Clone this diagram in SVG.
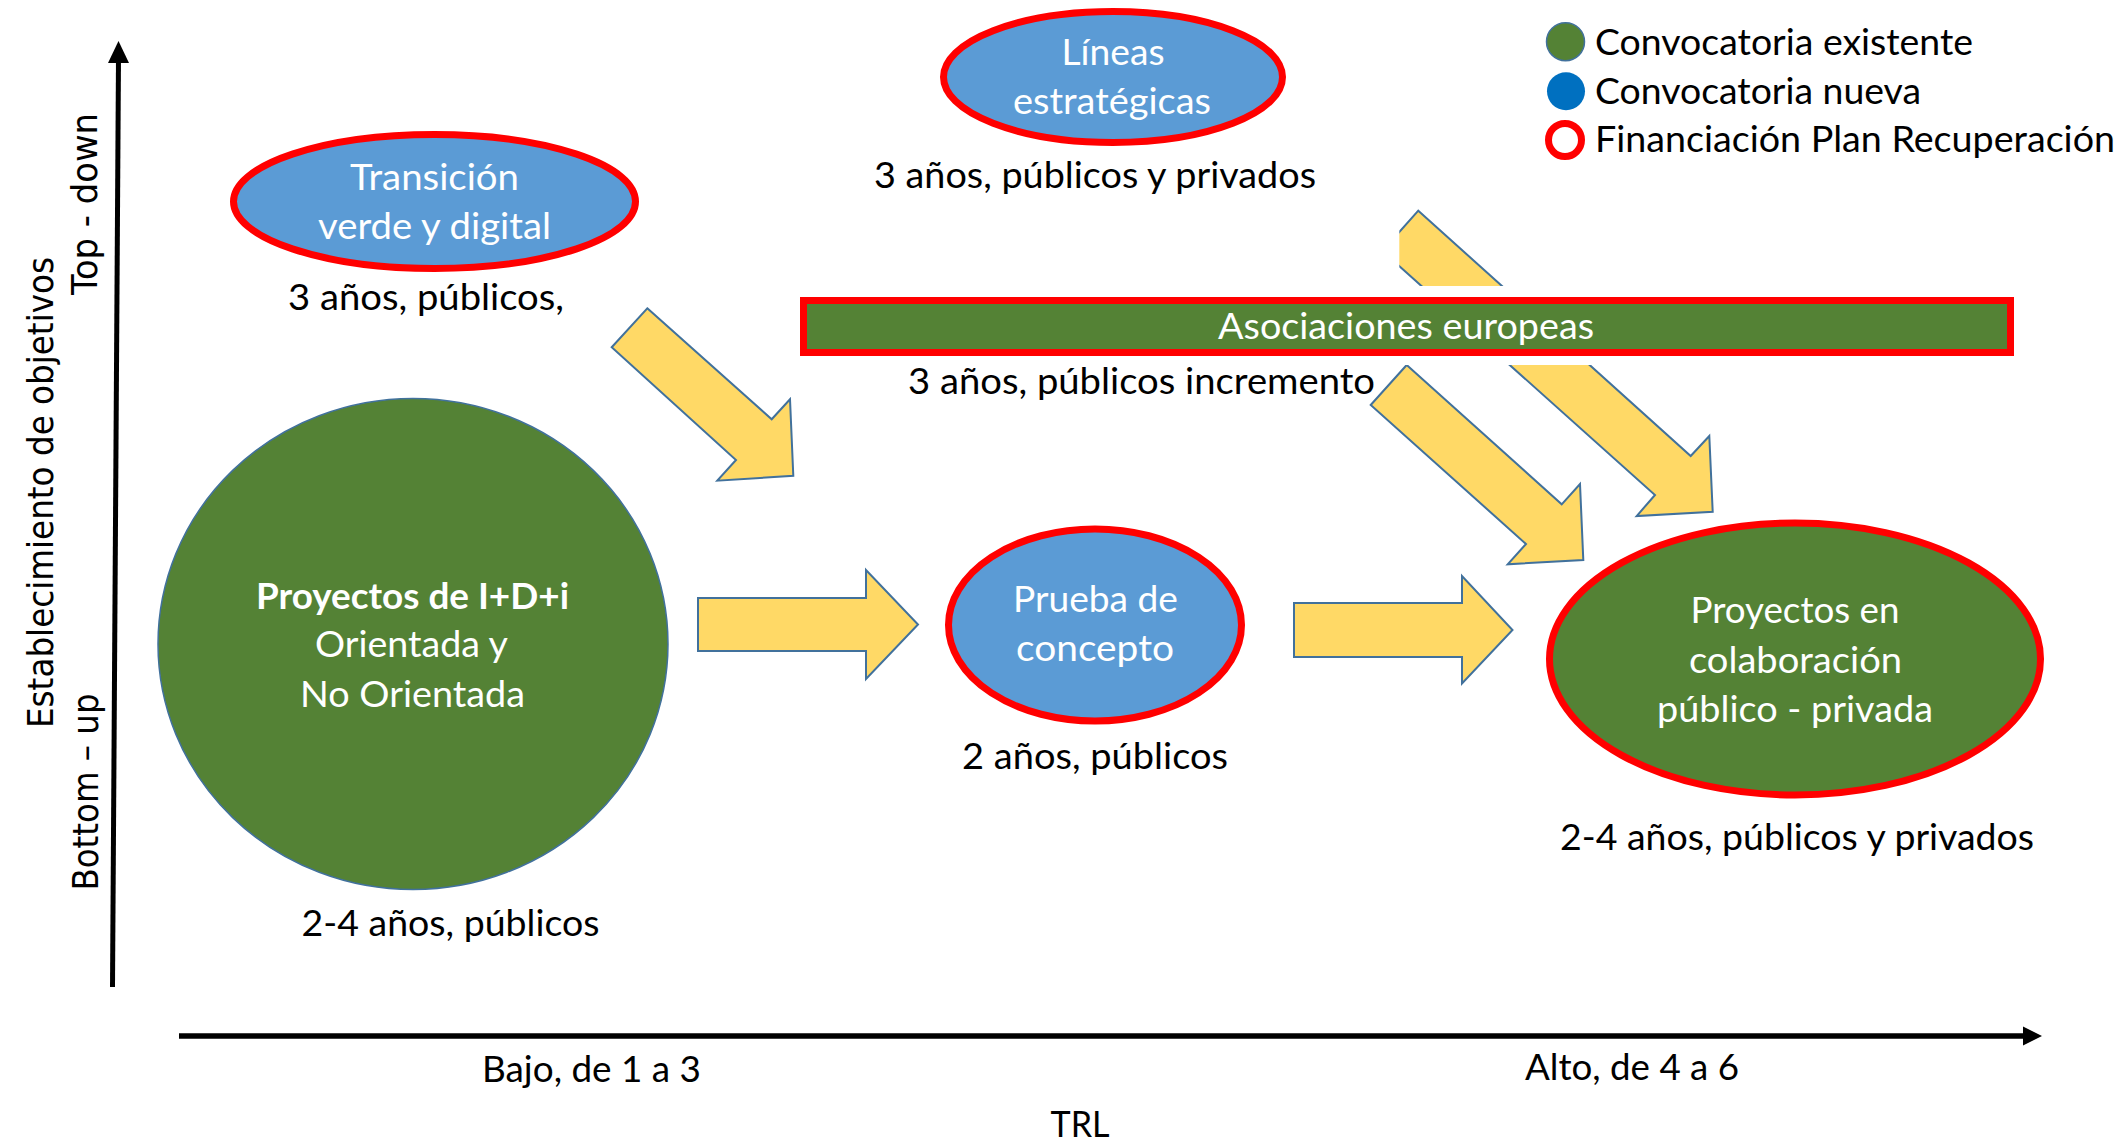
<svg xmlns="http://www.w3.org/2000/svg" width="2124" height="1145" viewBox="0 0 2124 1145">
<defs>
<style>
.t{font-family:Lato,"Liberation Sans",sans-serif;font-size:36px;fill:#000;text-anchor:middle}
.w{fill:#fff}
.b{font-weight:bold}
.s{text-anchor:start}
.ax{font-family:"DejaVu Sans",Verdana,sans-serif;font-size:35px;fill:#000;text-anchor:middle}
.ar{fill:#FFD966;stroke:#41719C;stroke-width:2;stroke-linejoin:miter}
.bl{fill:#5B9BD5;stroke:#FF0000;stroke-width:7}
.gr{fill:#548235;stroke:#FF0000;stroke-width:7}
.gt{fill:#548235;stroke:#41719C;stroke-width:1.5}
</style>
</defs>
<rect width="2124" height="1145" fill="#ffffff"/>

<g id="axes">
<line x1="118.5" y1="58" x2="112.5" y2="987" stroke="#000" stroke-width="5"/>
<polygon points="118.5,41 108,63 129,63" fill="#000"/>
<line x1="179" y1="1036" x2="2026" y2="1036" stroke="#000" stroke-width="5.5"/>
<polygon points="2042,1036 2023,1026.5 2023,1045.5" fill="#000"/>
<text class="ax" transform="translate(52.7,492.5) rotate(-90)" textLength="471" lengthAdjust="spacingAndGlyphs">Establecimiento de objetivos</text>
<text class="ax" transform="translate(97,204) rotate(-90)" textLength="182" lengthAdjust="spacingAndGlyphs">Top - down</text>
<text class="ax" transform="translate(98,792) rotate(-90)" textLength="197" lengthAdjust="spacingAndGlyphs">Bottom – up</text>
<text class="t" x="591.5" y="1082" textLength="219" lengthAdjust="spacingAndGlyphs">Bajo, de 1 a 3</text>
<text class="t" x="1632" y="1080" textLength="214" lengthAdjust="spacingAndGlyphs">Alto, de 4 a 6</text>
<text class="t" x="1080" y="1137" textLength="59" lengthAdjust="spacingAndGlyphs">TRL</text>
</g>

<g id="connectors">
<polygon class="ar" points="647.3,308.3 771.7,419.3 790,399.3 793.3,475.7 717.3,480.7 736,460 611.7,347.3"/>
<polygon class="ar" points="698,598 866,598 866,570 918,624.5 866,679 866,651 698,651"/>
<polygon class="ar" points="1294,603 1462,603 1462,576 1512.5,630 1462,683.5 1462,657 1294,657"/>
<polygon class="ar" points="1418.3,210.7 1690.7,456 1709.3,436 1712.7,511.7 1636.7,516 1655,495 1382.4,251"/>
<polygon class="ar" points="1406.7,365 1561.7,504.3 1580,484 1583.3,560 1507.7,564.3 1526,544 1370.7,405"/>
<rect x="1394" y="286" width="217" height="79" fill="#ffffff"/>
<rect x="1340" y="195" width="59.3" height="95" fill="#ffffff"/>
</g>

<g id="transicion">
<ellipse class="bl" cx="434.5" cy="201.5" rx="201" ry="67"/>
<text class="t w" x="434.5" y="190" textLength="169" lengthAdjust="spacingAndGlyphs">Transición</text>
<text class="t w" x="434.5" y="239" textLength="233" lengthAdjust="spacingAndGlyphs">verde y digital</text>
<text class="t" x="426" y="310" textLength="276" lengthAdjust="spacingAndGlyphs">3 años, públicos,</text>
</g>

<g id="lineas">
<ellipse class="bl" cx="1113" cy="77" rx="169.5" ry="65.5"/>
<text class="t w" x="1113" y="65" textLength="103" lengthAdjust="spacingAndGlyphs">Líneas</text>
<text class="t w" x="1112" y="114" textLength="198" lengthAdjust="spacingAndGlyphs">estratégicas</text>
<text class="t" x="1095" y="188" textLength="442" lengthAdjust="spacingAndGlyphs">3 años, públicos y privados</text>
</g>

<g id="asociaciones">
<rect class="gr" x="803.5" y="300.5" width="1207" height="52"/>
<text class="t w" x="1406" y="339" textLength="376" lengthAdjust="spacingAndGlyphs">Asociaciones europeas</text>
<text class="t" x="1141.5" y="394" textLength="467" lengthAdjust="spacingAndGlyphs">3 años, públicos incremento</text>
</g>

<g id="idi">
<ellipse class="gt" cx="413" cy="644" rx="255" ry="245.5"/>
<text class="t w b" x="412.5" y="608.5" textLength="313" lengthAdjust="spacingAndGlyphs">Proyectos de I+D+i</text>
<text class="t w" x="411.5" y="657" textLength="193" lengthAdjust="spacingAndGlyphs">Orientada y</text>
<text class="t w" x="412.5" y="706.5" textLength="225" lengthAdjust="spacingAndGlyphs">No Orientada</text>
<text class="t" x="450.5" y="936" textLength="298" lengthAdjust="spacingAndGlyphs">2-4 años, públicos</text>
</g>

<g id="prueba">
<ellipse class="bl" cx="1095" cy="625" rx="146.5" ry="96"/>
<text class="t w" x="1095.5" y="612" textLength="165" lengthAdjust="spacingAndGlyphs">Prueba de</text>
<text class="t w" x="1095" y="661" textLength="158" lengthAdjust="spacingAndGlyphs">concepto</text>
<text class="t" x="1095" y="769" textLength="266" lengthAdjust="spacingAndGlyphs">2 años, públicos</text>
</g>

<g id="colaboracion">
<ellipse class="gr" cx="1795" cy="659" rx="245.5" ry="136"/>
<text class="t w" x="1795" y="623" textLength="209" lengthAdjust="spacingAndGlyphs">Proyectos en</text>
<text class="t w" x="1795.5" y="672.5" textLength="213" lengthAdjust="spacingAndGlyphs">colaboración</text>
<text class="t w" x="1795" y="722" textLength="276" lengthAdjust="spacingAndGlyphs">público - privada</text>
<text class="t" x="1797" y="850" textLength="474" lengthAdjust="spacingAndGlyphs">2-4 años, públicos y privados</text>
</g>

<g id="legend">
<circle cx="1565.5" cy="41.7" r="19" fill="#548235" stroke="#41719C" stroke-width="1.5"/>
<text class="t s" x="1595" y="55" textLength="378" lengthAdjust="spacingAndGlyphs">Convocatoria existente</text>
<circle cx="1566" cy="91.3" r="19" fill="#0070C0"/>
<text class="t s" x="1595" y="103.5" textLength="326" lengthAdjust="spacingAndGlyphs">Convocatoria nueva</text>
<circle cx="1565" cy="140" r="16.5" fill="#ffffff" stroke="#FF0000" stroke-width="7"/>
<text class="t s" x="1595" y="151.5" textLength="520" lengthAdjust="spacingAndGlyphs">Financiación Plan Recuperación</text>
</g>
</svg>
